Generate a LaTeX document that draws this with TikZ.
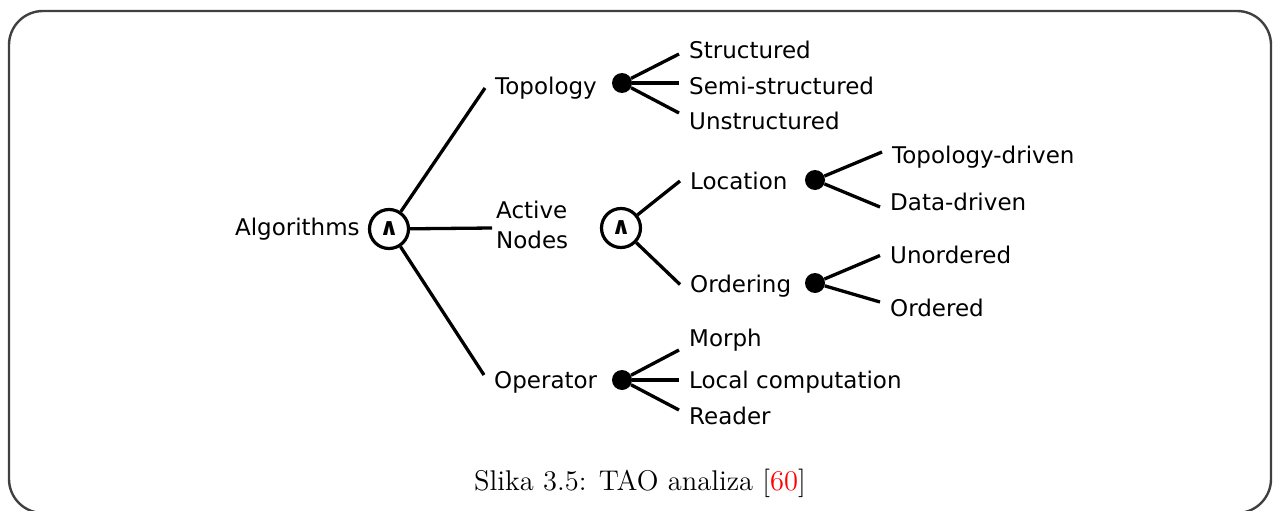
\documentclass[tikz,border=0pt]{standalone}
\usepackage{fontspec}
\newfontfamily\dejavu{DejaVu Sans}
\newfontfamily\capfont{lmroman12-regular.otf}
\usetikzlibrary{positioning}

\begin{document}
\begin{tikzpicture}[x=1pt,y=-1pt,node distance=8pt]
  \tikzstyle{lbl}=[font=\dejavu\fontsize{23}{30}\selectfont,inner ysep=0pt]
  \tikzstyle{leaf}=[lbl,inner xsep=10pt,text height=16.8pt,text depth=0pt,anchor=west]
  \tikzstyle{andnode}=[circle,draw,line width=3.2pt,fill=white,minimum size=39pt,inner sep=0pt,font=\dejavu\bfseries\fontsize{24}{24}\selectfont]
  \tikzstyle{dot}=[circle,fill=black,minimum size=20pt,inner sep=0pt]
  \tikzstyle{edge}=[line width=3.3pt]
  \tikzstyle{frame}=[line width=2.4pt,draw=black!75,rounded corners=34pt]
  \useasboundingbox (0,0) rectangle (1274,511);
  \draw[frame] (9,11) rectangle (1271,513);

  \node[andnode] (and1) at (389,229) {∧};
  \node[lbl,inner xsep=0pt,left=8pt of and1] (alg) {Algorithms};
  \node[leaf] (topo) at (485,86) {Topology};
  \node[lbl,align=left,anchor=west,inner xsep=4pt] (active) at (492,225) {Active\\Nodes};
  \node[leaf] (oper) at (484,380) {Operator};

  \node[dot] (dtopo) at (622,83) {};
  \node[leaf] (struct) at (679,50) {Structured};
  \node[leaf] (semi) at (679,86) {Semi-structured};
  \node[leaf] (unstr) at (679,121) {Unstructured};

  \node[andnode] (and2) at (621,228) {∧};
  \node[leaf] (loc) at (680,181) {Location};
  \node[leaf] (ord) at (680,284.5) {Ordering};
  \node[dot] (dloc) at (815,180) {};
  \node[dot] (dord) at (815,283) {};
  \node[leaf] (tdriv) at (882,155) {Topology-driven};
  \node[leaf] (ddriv) at (880,202.5) {Data-driven};
  \node[leaf] (unord) at (880,255.5) {Unordered};
  \node[leaf] (ordd) at (880,308.5) {Ordered};

  \node[dot] (doper) at (622,380) {};
  \node[leaf] (morph) at (679,338) {Morph};
  \node[leaf] (local) at (679,380) {Local computation};
  \node[leaf] (reader) at (679,416.5) {Reader};

  \draw[edge] (and1) -- ([yshift=-2pt]topo.west);
  \draw[edge] (and1) -- ([yshift=-3pt]active.west);
  \draw[edge] (and1) -- ([yshift=5pt]oper.west);
  \draw[edge] (dtopo) -- ([yshift=-4pt]struct.west);
  \draw[edge] (dtopo) -- ([yshift=3pt]semi.west);
  \draw[edge] (dtopo) -- ([yshift=8pt]unstr.west);
  \draw[edge] (and2) -- (loc.west);
  \draw[edge] (and2) -- (ord.west);
  \draw[edge] (dloc) -- ([yshift=3pt]tdriv.west);
  \draw[edge] (dloc) -- ([yshift=-4.5pt]ddriv.west);
  \draw[edge] (dord) -- (unord.west);
  \draw[edge] (dord) -- ([yshift=6.5pt]ordd.west);
  \draw[edge] (doper) -- ([yshift=-12pt]morph.west);
  \draw[edge] (doper) -- (local.west);
  \draw[edge] (doper) -- ([yshift=6.5pt]reader.west);

  \node[font=\capfont\fontsize{28.5}{32}\selectfont,text height=19pt,text depth=0pt,inner sep=0pt] (cap) at (640,481) {Slika 3.5: TAO analiza [\textcolor{red}{60}]};
\end{tikzpicture}
\end{document}
